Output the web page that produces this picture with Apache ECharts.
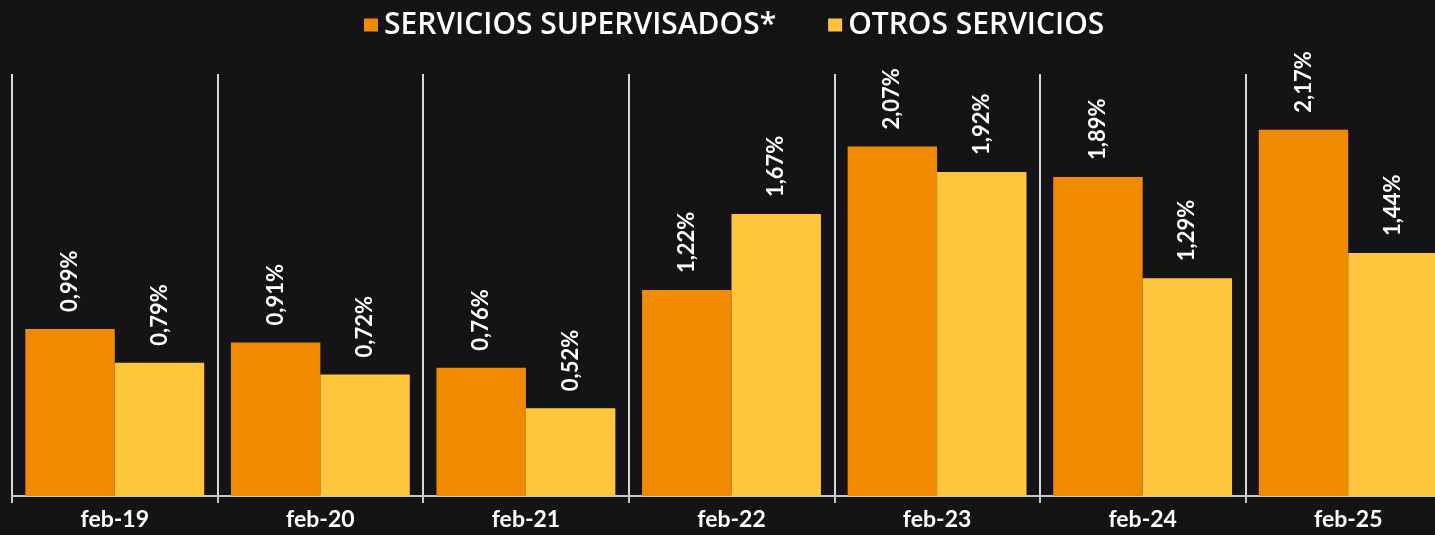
<!DOCTYPE html>
<html>
<head>
<meta charset="utf-8">
<script src="https://cdn.jsdelivr.net/npm/echarts@6/dist/echarts.min.js"></script>
<style>
  html, body { margin: 0; padding: 0; background: #141416; }
  #chart { width: 1435px; height: 535px; }
</style>
</head>
<body>
<div id="chart"></div>
<script>
const categories = ["feb-19", "feb-20", "feb-21", "feb-22", "feb-23", "feb-24", "feb-25"];
const supervisados = [0.99, 0.91, 0.76, 1.22, 2.07, 1.89, 2.17];
const otros = [0.79, 0.72, 0.52, 1.67, 1.92, 1.29, 1.44];
const seriesNames = ["SERVICIOS SUPERVISADOS*", "OTROS SERVICIOS"];

const chart = echarts.init(document.getElementById("chart"));

function fmt(p) {
  return p.value.toFixed(2).replace(".", ",") + "%";
}

const labelStyle = {
  show: true,
  position: "top",
  rotate: 90,
  align: "left",
  verticalAlign: "middle",
  distance: 17,
  color: "#ffffff",
  fontFamily: "Lato",
  fontWeight: "bold",
  fontSize: 22,
  formatter: fmt,
};

const option = {
  backgroundColor: "#141416",
  animation: false,
  legend: {
    top: 5,
    left: 359,
    itemWidth: 14,
    itemHeight: 13,
    itemGap: 52,
    icon: "rect",
    textStyle: {
      color: "#ffffff",
      fontFamily: "Open Sans",
      fontWeight: 600,
      fontSize: 30,
      padding: [0, 0, 0, 1],
    },
  },
  grid: {
    left: 12,
    right: -16,
    top: 74,
    bottom: 39,
    outerBoundsMode: "none",
  },
  xAxis: {
    type: "category",
    data: categories,
    axisLine: { lineStyle: { color: "#c8c8c8", width: 2 } },
    axisTick: { show: true, length: 7, lineStyle: { color: "#c8c8c8", width: 2 } },
    splitLine: { show: true, lineStyle: { color: "#d8d8d8", width: 2 } },
    axisLabel: {
      color: "#ffffff",
      fontFamily: "Lato",
      fontWeight: "bold",
      fontSize: 23,
      margin: 12,
    },
  },
  yAxis: {
    type: "value",
    min: 0,
    max: 2.5,
    show: false,
    splitLine: { show: false },
  },
  series: [
    {
      name: seriesNames[0],
      type: "bar",
      data: supervisados,
      barGap: "0%",
      barCategoryGap: "13%",
      itemStyle: { color: "#f08a00" },
      label: labelStyle,
    },
    {
      name: seriesNames[1],
      type: "bar",
      data: otros,
      barGap: "0%",
      barCategoryGap: "13%",
      itemStyle: { color: "#ffc53d" },
      label: labelStyle,
    },
  ],
};

chart.setOption(option);
window.addEventListener("resize", chart.resize);
</script>
</body>
</html>
